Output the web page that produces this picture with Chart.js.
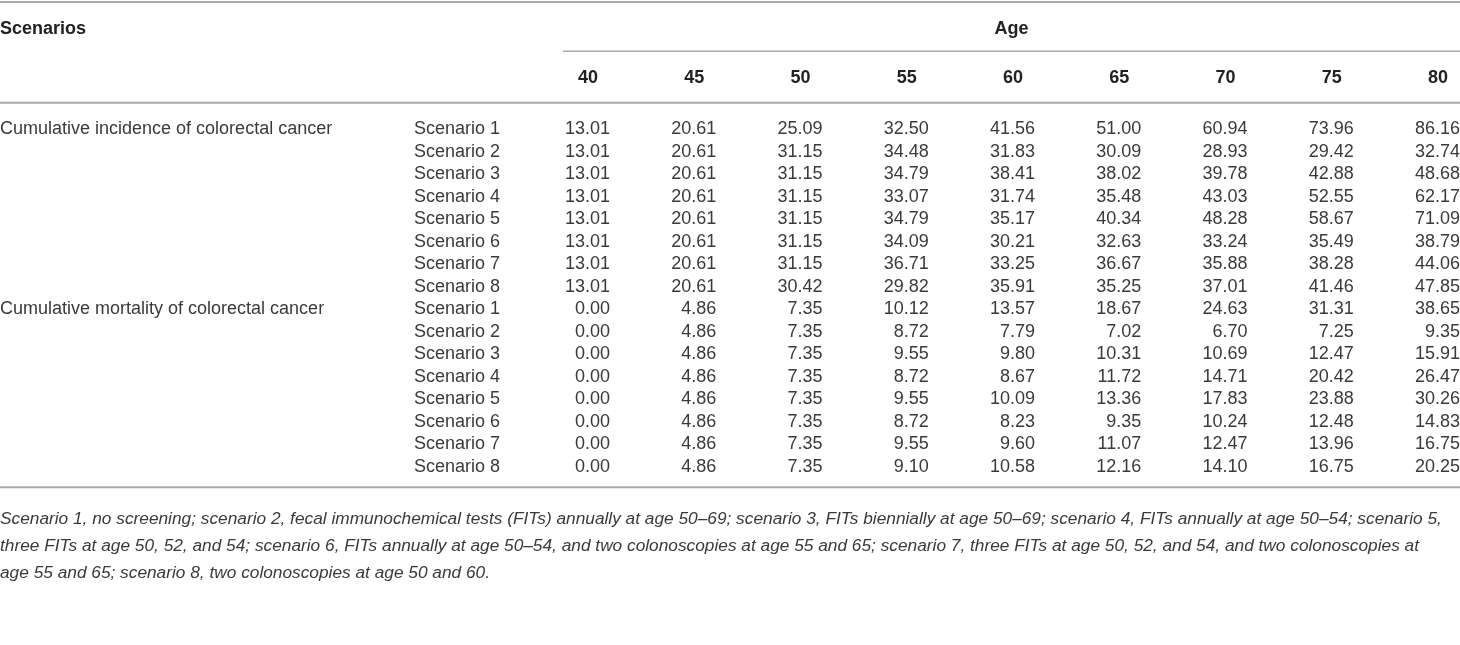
<!DOCTYPE html>
<html>
<head>
<meta charset="utf-8">
<script src="https://cdn.jsdelivr.net/npm/chart.js@4/dist/chart.umd.min.js"></script>
<style>
  html, body { margin: 0; padding: 0; background: #fff; }
  #wrap { width: 1460px; height: 645px; position: relative; }
</style>
</head>
<body>
<div id="wrap"><canvas id="chart-table"></canvas></div>
<script>
// table content
const ages = ['40', '45', '50', '55', '60', '65', '70', '75', '80'];
const groups = ['Cumulative incidence of colorectal cancer', 'Cumulative mortality of colorectal cancer'];
const scenarios = ['Scenario 1', 'Scenario 2', 'Scenario 3', 'Scenario 4', 'Scenario 5', 'Scenario 6', 'Scenario 7', 'Scenario 8'];

const incidence = [
    ['13.01', '20.61', '25.09', '32.50', '41.56', '51.00', '60.94', '73.96', '86.16'],
    ['13.01', '20.61', '31.15', '34.48', '31.83', '30.09', '28.93', '29.42', '32.74'],
    ['13.01', '20.61', '31.15', '34.79', '38.41', '38.02', '39.78', '42.88', '48.68'],
    ['13.01', '20.61', '31.15', '33.07', '31.74', '35.48', '43.03', '52.55', '62.17'],
    ['13.01', '20.61', '31.15', '34.79', '35.17', '40.34', '48.28', '58.67', '71.09'],
    ['13.01', '20.61', '31.15', '34.09', '30.21', '32.63', '33.24', '35.49', '38.79'],
    ['13.01', '20.61', '31.15', '36.71', '33.25', '36.67', '35.88', '38.28', '44.06'],
    ['13.01', '20.61', '30.42', '29.82', '35.91', '35.25', '37.01', '41.46', '47.85'],
];
const mortality = [
    ['0.00', '4.86', '7.35', '10.12', '13.57', '18.67', '24.63', '31.31', '38.65'],
    ['0.00', '4.86', '7.35', '8.72', '7.79', '7.02', '6.70', '7.25', '9.35'],
    ['0.00', '4.86', '7.35', '9.55', '9.80', '10.31', '10.69', '12.47', '15.91'],
    ['0.00', '4.86', '7.35', '8.72', '8.67', '11.72', '14.71', '20.42', '26.47'],
    ['0.00', '4.86', '7.35', '9.55', '10.09', '13.36', '17.83', '23.88', '30.26'],
    ['0.00', '4.86', '7.35', '8.72', '8.23', '9.35', '10.24', '12.48', '14.83'],
    ['0.00', '4.86', '7.35', '9.55', '9.60', '11.07', '12.47', '13.96', '16.75'],
    ['0.00', '4.86', '7.35', '9.10', '10.58', '12.16', '14.10', '16.75', '20.25'],
];

const footnote = [
    'Scenario 1, no screening; scenario 2, fecal immunochemical tests (FITs) annually at age 50–69; scenario 3, FITs biennially at age 50–69; scenario 4, FITs annually at age 50–54; scenario 5,',
    'three FITs at age 50, 52, and 54; scenario 6, FITs annually at age 50–54, and two colonoscopies at age 55 and 65; scenario 7, three FITs at age 50, 52, and 54, and two colonoscopies at',
    'age 55 and 65; scenario 8, two colonoscopies at age 50 and 60.',
];

const rowKeys = [];
const cells = [];
[incidence, mortality].forEach((block, g) => {
    block.forEach((row, r) => {
        const key = g + '-' + r;
        rowKeys.push(key);
        row.forEach((v, c) => cells.push({ x: ages[c], y: key, v }));
    });
});

const FONT = '"Liberation Sans", Arial, Helvetica, sans-serif';
const TEXT = '#3a3a3a';
const HEAD = '#222';
const RULE = '#a9a9a9';

const tablePlugin = {
    id: 'tableText',
    afterDatasetsDraw(chart) {
        const { ctx, chartArea, scales: { x, y } } = chart;
        const rowH = y.getPixelForValue(1) - y.getPixelForValue(0);
        const numHalf = 23;
        ctx.save();
        ctx.textBaseline = 'middle';

        // body cells
        ctx.fillStyle = TEXT;
        ctx.font = '18px ' + FONT;
        ctx.textAlign = 'right';
        cells.forEach(c => {
            ctx.fillText(c.v, x.getPixelForValue(ages.indexOf(c.x)) + numHalf,
                y.getPixelForValue(rowKeys.indexOf(c.y)));
        });

        ctx.textAlign = 'left';
        rowKeys.forEach((key, i) => {
            const [g, r] = key.split('-').map(Number);
            const py = y.getPixelForValue(i);
            ctx.fillText(scenarios[r], 414, py);
            if (r === 0) ctx.fillText(groups[g], 0, py);
        });

        // header
        const ageRowY = chartArea.top - rowH * 2.28;
        const ageTitleY = chartArea.top - rowH * 4.45;
        ctx.fillStyle = HEAD;
        ctx.font = 'bold 18px ' + FONT;
        ctx.textAlign = 'left';
        ctx.fillText('Scenarios', 0, ageTitleY);
        ctx.textAlign = 'center';
        ages.forEach((a, i) => ctx.fillText(a, x.getPixelForValue(i) + 1, ageRowY));
        const ageLeft = x.getPixelForValue(0) - numHalf - 1;
        const ageRight = chart.width;
        ctx.fillText('Age', (ageLeft + ageRight) / 2, ageTitleY);

        // rules
        ctx.strokeStyle = RULE;
        const hline = (x0, x1, py, w) => {
            ctx.lineWidth = w;
            ctx.beginPath();
            ctx.moveTo(x0, py);
            ctx.lineTo(x1, py);
            ctx.stroke();
        };
        hline(0, chart.width, 2, 2);
        hline(ageLeft, ageRight, chartArea.top - rowH * 3.45, 1.5);
        hline(0, chart.width, chartArea.top - rowH * 1.17, 2);
        hline(0, chart.width, chartArea.bottom + rowH * 0.9, 2);

        // footnote
        ctx.fillStyle = TEXT;
        ctx.font = 'italic 17.3px ' + FONT;
        ctx.textAlign = 'left';
        footnote.forEach((line, i) => {
            ctx.fillText(line, 0, chartArea.bottom + rowH * 2.3 + i * 27);
        });
        ctx.restore();
    },
};

new Chart(document.getElementById('chart-table'), {
    type: 'scatter',
    data: {
        datasets: [{
            data: cells.map(c => ({ x: c.x, y: c.y })),
            pointRadius: 0,
            pointHoverRadius: 0,
        }],
    },
    options: {
        responsive: true,
        maintainAspectRatio: false,
        animation: false,
        events: [],
        layout: { padding: { left: 587, right: 23, top: 129, bottom: 178 } },
        plugins: { legend: { display: false }, tooltip: { enabled: false } },
        scales: {
            x: { type: 'category', labels: ages, offset: false, display: false },
            y: { type: 'category', labels: rowKeys, offset: false, display: false },
        },
    },
    plugins: [tablePlugin],
});
</script>
</body>
</html>
